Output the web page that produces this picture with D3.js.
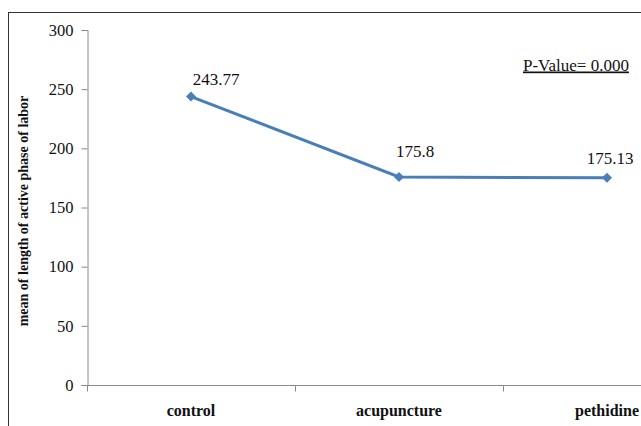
<!DOCTYPE html>
<html>
<head>
<meta charset="utf-8">
<script src="https://cdn.jsdelivr.net/npm/d3@7"></script>
<style>
  html, body { margin: 0; padding: 0; background: #fff; }
  svg { display: block; }
  svg text { font-family: "Liberation Serif", "Times New Roman", "DejaVu Serif", serif; }
</style>
</head>
<body>
<svg id="chart" width="641" height="426"></svg>
<script>
// Group means: length of active phase of labour
const categories = ["control", "acupuncture", "pethidine"];
const means = [243.77, 175.8, 175.13];
const valueLabels = ["243.77", "175.8", "175.13"];
const yTicks = [0, 50, 100, 150, 200, 250, 300];
const yTitle = "mean of length of active phase of labor";
const pValueText = "P-Value= 0.000";

(function drawChart() {
  const svg = d3.select("#chart");
  const serif = '"Liberation Serif", "Times New Roman", "DejaVu Serif", serif';

  // Outer chart frame (runs off the right and bottom edges)
  svg.append("rect")
    .attr("x", 8.5).attr("y", 12.5)
    .attr("width", 700).attr("height", 500)
    .attr("fill", "none").attr("stroke", "#333").attr("stroke-width", 1);

  const plotLeft = 87, plotTop = 30, plotBottom = 385;
  const bandW = 208;

  const x = d3.scaleBand().domain(categories)
    .range([plotLeft, plotLeft + bandW * categories.length]).padding(0);
  const y = d3.scaleLinear().domain([0, 300]).range([plotBottom, plotTop]);

  // Y axis
  const yAxis = svg.append("g")
    .attr("transform", `translate(${plotLeft + 0.5},0)`)
    .call(d3.axisLeft(y).tickValues(yTicks).tickSize(6).tickPadding(8));
  yAxis.attr("font-family", null).attr("font-size", null);
  yAxis.select(".domain").attr("stroke", "#8a8a8a");
  yAxis.selectAll(".tick line").attr("stroke", "#8a8a8a");
  yAxis.selectAll(".tick text")
    .style("font-family", serif).style("font-size", "16.5px").attr("fill", "#111");

  // X axis: ticks on category boundaries
  const xAxisG = svg.append("g").attr("transform", `translate(0,${plotBottom + 0.5})`);
  xAxisG.append("line")
    .attr("x1", x.range()[0]).attr("x2", x.range()[1])
    .attr("stroke", "#8a8a8a");
  xAxisG.selectAll("line.tk")
    .data(categories.map(c => x(c)).concat([x.range()[1]]))
    .join("line").attr("class", "tk")
    .attr("x1", d => d + 0.5).attr("x2", d => d + 0.5)
    .attr("y1", 0).attr("y2", 6)
    .attr("stroke", "#8a8a8a");
  xAxisG.selectAll("text")
    .data(categories)
    .join("text")
    .attr("x", d => x(d) + x.bandwidth() / 2)
    .attr("y", 30)
    .attr("text-anchor", "middle")
    .style("font-family", serif).style("font-size", "16px").style("font-weight", "bold")
    .attr("fill", "#111")
    .text(d => d);

  // Y axis title
  svg.append("text")
    .attr("transform", `translate(28,211) rotate(-90)`)
    .attr("text-anchor", "middle")
    .style("font-family", serif).style("font-size", "14px").style("font-weight", "bold")
    .attr("fill", "#111")
    .text(yTitle);

  // Series line
  const cx = i => x(categories[i]) + x.bandwidth() / 2;
  const line = d3.line().x((d, i) => cx(i)).y(d => y(d));
  svg.append("path")
    .datum(means)
    .attr("d", line)
    .attr("fill", "none")
    .attr("stroke", "#4a7ebb")
    .attr("stroke-width", 3);

  // Diamond markers
  const diamond = d3.symbol().type(d3.symbolDiamond2).size(64);
  svg.selectAll("path.marker")
    .data(means)
    .join("path").attr("class", "marker")
    .attr("d", diamond)
    .attr("transform", (d, i) => `translate(${cx(i)},${y(d)})`)
    .attr("fill", "#4a7ebb");

  // Data labels
  const labelDx = [25, 16, 3];
  const labelDy = [-11.5, -20, -14];
  svg.selectAll("text.val")
    .data(means)
    .join("text").attr("class", "val")
    .attr("x", (d, i) => cx(i) + labelDx[i])
    .attr("y", (d, i) => y(d) + labelDy[i])
    .attr("text-anchor", "middle")
    .style("font-family", serif).style("font-size", "17px")
    .attr("fill", "#111")
    .text((d, i) => valueLabels[i]);

  // P-value annotation
  svg.append("text")
    .attr("x", 523).attr("y", 70.5)
    .style("font-family", serif).style("font-size", "17px")
    .attr("fill", "#111")
    .attr("text-decoration", "underline")
    .text(pValueText);
})();
</script>
</body>
</html>
